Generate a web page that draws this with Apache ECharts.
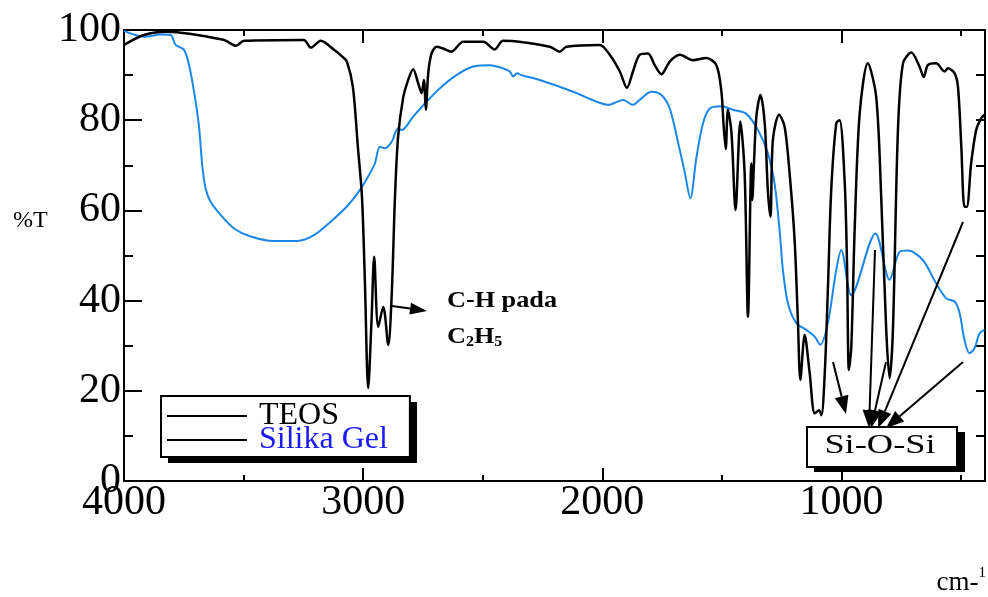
<!DOCTYPE html>
<html><head><meta charset="utf-8">
<script src="https://cdn.jsdelivr.net/npm/echarts@6/dist/echarts.min.js"></script>
<style>html,body{margin:0;padding:0;background:#fff}#c{width:988px;height:597px}</style>
</head><body><div id="c"></div>
<script>
// ---- data (wavenumber cm-1, %T) ----
const teosWavenumber = [4000,3916,3820,3582,3532,3498,3248,3219,3177,3122,
  3085,3068,3043,3022,3005,2993,2979,2965,2954,2937,
  2916,2895,2881,2867,2854,2833,2812,2791,2770,2756,
  2746,2738,2728,2714,2693,2666,2631,2582,2498,2450,
  2415,2220,2178,2150,2011,1969,1927,1897,1872,1844,
  1809,1781,1753,1718,1676,1621,1565,1523,1502,1493,
  1484,1475,1460,1443,1423,1405,1391,1377,1373,1366,
  1356,1339,1321,1308,1297,1287,1261,1238,1217,1196,
  1182,1172,1154,1133,1112,1094,1084,1070,1057,1043,
  1022,1008,987,977,969,959,945,924,890,855,
  834,813,799,785,764,743,708,674,656,639,
  604,569,555,527,513,499,486,476,458,437,
  416,402];
const teosT = [96.7,98.9,99.6,97.8,96.5,97.6,97.8,96.1,97.6,95.6,
  94,93,87.4,74,63,44.6,20.6,35.7,49.7,34.2,
  38.6,30.2,40.9,63,76.3,84.9,88.9,91.3,88.2,86,
  88.9,82.3,90.4,94.8,96.3,95.9,95.2,97.4,97.4,95.7,
  97.6,96.3,95.2,96.3,96.7,94.5,90.8,87.2,90.8,94.5,
  94.8,92.2,90.2,93,94.5,93.3,93.8,92.2,86.3,78.9,
  73.6,82.3,77.2,60.1,79.7,68.3,36.4,70.4,62.3,70.4,
  80.8,85.6,79.3,64.5,58.6,75.6,81.2,78.6,68.2,53.4,
  35,22.4,32.4,23.9,15,15.7,14.6,23.9,42.4,64.5,
  79.3,80,66.7,48.3,24.6,29.8,55.7,81.5,92.6,85.2,
  63,33.5,22.8,33.5,77.8,92.6,95,91.9,89.6,92.2,
  92.6,90.8,91.5,90.4,87.4,74.1,60.8,60.8,70.4,77.8,
  80.4,81.2];
const silikaWavenumber = [4000,3916,3847,3805,3784,3749,3728,3707,3687,3673,
  3659,3638,3596,3540,3470,3373,3276,3206,3136,3069,
  3014,2972,2951,2930,2909,2881,2854,2839,2791,2735,
  2679,2610,2540,2470,2415,2387,2373,2356,2338,2262,
  2122,2024,1976,1913,1872,1844,1795,1753,1718,1684,
  1656,1632,1607,1579,1551,1502,1454,1398,1349,1308,
  1280,1259,1245,1224,1189,1147,1112,1089,1057,1022,
  1001,959,858,799,757,722,660,604,562,527,
  506,486,465,444,423,402];
const silikaT = [99.8,98.5,99,98.9,96.7,95.6,92.2,86.3,78.9,70.1,
  64.9,61.9,59,56,54.2,53.2,53.2,54.5,57.5,60.8,
  64.5,68.2,70.4,74.1,73.8,75.2,78.2,77.8,80.8,84.1,
  87.1,90,91.9,92.2,91.5,90.8,89.7,90.4,90,88.9,
  86.3,84.1,83.4,84.5,83.4,84.5,86.3,85.6,82.6,75.2,
  68.6,62.7,71.6,79.3,82.6,83.1,82.3,81.4,77.8,72.7,
  66,55.7,46.8,39.4,35,33.5,32,30.2,35,46.8,
  51.2,41.2,54.9,44.6,50.8,51.1,49,43.8,40.5,39.8,
  37.2,31.3,28.3,29.4,32.7,33.5];
const xMajorTicks = [4000,3000,2000,1000];
const xMinorTicks = [3500,2500,1500,500];
const xTopMajorTicks = [3000,2000,1000];
const seriesNames = ['TEOS','Silika Gel'];

const zip = (a,b) => a.map((v,i)=>[v,b[i]]);
const serif = 'Liberation Serif';
const BLK = '#000';

function arrow(x1,y1,x2,y2,len,half){
  const dx=x2-x1, dy=y2-y1, L=Math.hypot(dx,dy), ux=dx/L, uy=dy/L;
  const bx=x2-ux*len, by=y2-uy*len, px=-uy, py=ux;
  return [
    {type:'line', shape:{x1:x1,y1:y1,x2:bx,y2:by}, style:{stroke:BLK, lineWidth:2}, z:100},
    {type:'polygon', shape:{points:[[x2,y2],[bx+px*half,by+py*half],[bx-px*half,by-py*half]]}, style:{fill:BLK}, z:100}
  ];
}

const xBase = {type:'value', min:400, max:4000, inverse:true, gridIndex:0, splitLine:{show:false}};
const chart = echarts.init(document.getElementById('c'), null, {renderer:'canvas'});
chart.setOption({
  animation:false,
  backgroundColor:'#fff',
  grid:{left:124, top:30, right:3, bottom:116, containLabel:false},
  xAxis:[
    Object.assign({}, xBase, {position:'bottom',
      axisLine:{show:true, lineStyle:{color:BLK, width:2}},
      axisTick:{show:true, inside:true, length:13, customValues:xMajorTicks, lineStyle:{color:BLK, width:2}},
      axisLabel:{show:true, customValues:xMajorTicks, formatter:v=>String(v), fontFamily:serif, fontSize:42, color:BLK, margin:1}}),
    Object.assign({}, xBase, {position:'bottom',
      axisLine:{show:false},
      axisTick:{show:true, inside:true, length:6, customValues:xMinorTicks, lineStyle:{color:BLK, width:2}},
      axisLabel:{show:false}}),
    Object.assign({}, xBase, {position:'top',
      axisLine:{show:true, lineStyle:{color:BLK, width:2}},
      axisTick:{show:true, inside:true, length:13, customValues:xTopMajorTicks, lineStyle:{color:BLK, width:2}},
      axisLabel:{show:false}}),
    Object.assign({}, xBase, {position:'top',
      axisLine:{show:false},
      axisTick:{show:true, inside:true, length:6, customValues:xMinorTicks, lineStyle:{color:BLK, width:2}},
      axisLabel:{show:false}})
  ],
  yAxis:[
    {type:'value', position:'left', min:0, max:100, interval:20,
      axisLine:{show:true, lineStyle:{color:BLK, width:2}},
      axisTick:{show:true, inside:true, length:18, lineStyle:{color:BLK, width:2}},
      minorTick:{show:true, splitNumber:2, length:9, lineStyle:{color:BLK, width:2}},
      axisLabel:{fontFamily:serif, fontSize:42, color:BLK, margin:3},
      splitLine:{show:false}, minorSplitLine:{show:false}},
    {type:'value', position:'right', min:0, max:100, interval:10,
      axisLine:{show:true, lineStyle:{color:BLK, width:2}},
      axisTick:{show:true, inside:true, length:9, lineStyle:{color:BLK, width:2}},
      axisLabel:{show:false}, splitLine:{show:false}}
  ],
  legend:{
    orient:'vertical', left:161, top:396, selectedMode:false, z:10,
    data:[
      {name:seriesNames[0], itemStyle:{color:BLK}, textStyle:{color:BLK}},
      {name:seriesNames[1], itemStyle:{color:BLK}, textStyle:{color:'#1a1aff'}}
    ],
    icon:'rect', itemWidth:80, itemHeight:2, itemGap:-8,
    textStyle:{fontFamily:serif, fontSize:32, padding:[0,0,0,7]},
    backgroundColor:'#fff', borderColor:BLK, borderWidth:2,
    padding:[4,22,1,6]
  },
  series:[
    {name:seriesNames[1], type:'line', data:zip(silikaWavenumber, silikaT), showSymbol:false, symbol:'none',
      smooth:0.3, lineStyle:{color:'#1a87e8', width:2}, itemStyle:{color:'#1a87e8'}, z:2},
    {name:seriesNames[0], type:'line', data:zip(teosWavenumber, teosT), showSymbol:false, symbol:'none',
      smooth:0.3, lineStyle:{color:BLK, width:2.5}, itemStyle:{color:BLK}, z:3}
  ],
  graphic:[
    {type:'rect', shape:{x:168, y:402, width:249, height:61}, style:{fill:BLK}, z:0},
    {type:'text', left:13, top:209, style:{text:'%T', font:'24px "Liberation Serif"', fill:BLK}},
    {type:'text', x:986, y:600, style:{text:'{a|cm-}{s|1}', textAlign:'right', textVerticalAlign:'bottom',
      rich:{a:{fontFamily:serif, fontSize:27, fill:BLK, color:BLK, lineHeight:27},
            s:{fontFamily:serif, fontSize:15, fill:BLK, color:BLK, verticalAlign:'top', lineHeight:34}}}},
    {type:'text', x:447, y:301, scaleX:1.14, style:{text:'C-H pada', textVerticalAlign:'middle',
      font:'bold 23px "Liberation Serif"', fill:BLK}},
    {type:'text', x:447, y:337, scaleX:1.14, style:{text:'{a|C}{s|2}{a|H}{s|5}', textVerticalAlign:'middle',
      rich:{a:{fontFamily:serif, fontWeight:'bold', fontSize:23, color:BLK, lineHeight:24},
            s:{fontFamily:serif, fontWeight:'bold', fontSize:14, color:BLK, lineHeight:14, verticalAlign:'bottom'}}}},
    ...arrow(392,306,427,311,17,6),
    {type:'rect', shape:{x:814, y:432, width:151, height:40}, style:{fill:BLK}, z:100},
    {type:'rect', shape:{x:807, y:427, width:150, height:40},
      style:{fill:'#fff', stroke:BLK, lineWidth:2}, z:101},
    {type:'text', x:880, y:446, scaleX:1.3, style:{text:'Si-O-Si', textAlign:'center', textVerticalAlign:'middle',
      font:'28px "Liberation Serif"', fill:BLK}, z:102},
    ...arrow(833,362,846,414,18,7),
    ...arrow(875,250,869,428,18,7),
    ...arrow(886,362,871,428,18,7),
    ...arrow(963,222,878,428,18,7),
    ...arrow(963,362,886,428,18,7)
  ]
});
</script></body></html>
